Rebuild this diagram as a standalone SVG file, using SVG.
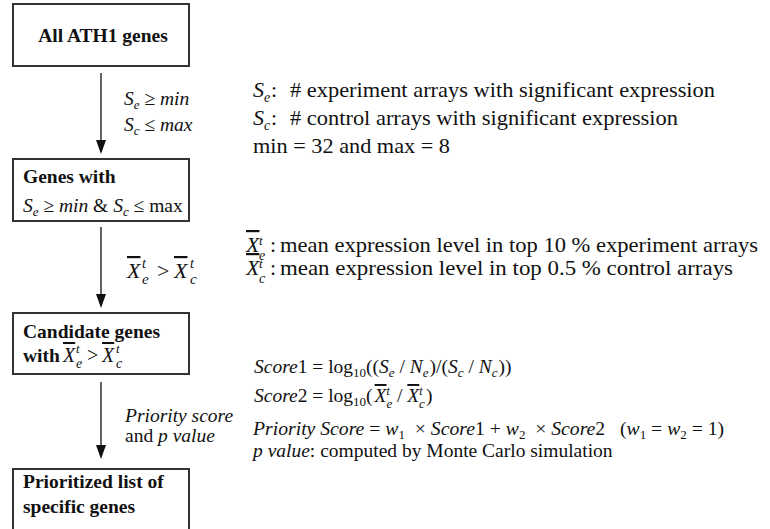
<svg xmlns="http://www.w3.org/2000/svg" width="770" height="529" viewBox="0 0 770 529" font-family="'Liberation Serif', 'DejaVu Serif', serif">
<style>
  text { font-family: 'Liberation Serif', 'DejaVu Serif', serif; fill: #111; }
  .b { font-weight: bold; }
  .i { font-style: italic; }
  .n { font-style: normal; }
  .box { fill: #fff; stroke: #333; stroke-width: 2; }
  .conn { stroke: #222; stroke-width: 1.4; fill: none; }
  .ob { text-decoration: overline; }
</style>
<defs>
  <marker id="ah" markerWidth="14" markerHeight="10" refX="12" refY="5" orient="auto" markerUnits="userSpaceOnUse" viewBox="0 0 14 10">
    <path d="M0,0 L14,5 L0,10 Z" fill="#111"/>
  </marker>
</defs>
<rect width="770" height="529" fill="#fff"/>

<g id="connectors">
  <line x1="101" y1="73" x2="101" y2="152" class="conn" marker-end="url(#ah)"/>
  <line x1="101" y1="227" x2="101" y2="306" class="conn" marker-end="url(#ah)"/>
  <line x1="101" y1="382" x2="101" y2="457" class="conn" marker-end="url(#ah)"/>
  <text class="i" x="124" y="105" font-size="19.5">S<tspan font-size="13" dy="4">e</tspan><tspan dy="-4" class="n"> ≥ </tspan>min</text>
  <text class="i" x="124" y="131" font-size="19.5">S<tspan font-size="13" dy="4">c</tspan><tspan dy="-4" class="n"> ≤ </tspan>max</text>
  <text class="i" font-size="22"><tspan class="ob" x="127" y="278">X</tspan><tspan font-size="14" x="142" y="268">t</tspan><tspan font-size="15" x="142" y="284">e</tspan><tspan class="n" x="157" y="278">&gt;</tspan><tspan class="ob" x="174" y="278">X</tspan><tspan font-size="14" x="190" y="268">t</tspan><tspan font-size="15" x="190" y="284">c</tspan></text>
  <text class="i" x="125" y="422" font-size="19.5">Priority score</text>
  <text x="125" y="442" font-size="19.5">and <tspan class="i">p value</tspan></text>
</g>

<g id="node-all">
  <rect x="13" y="4" width="176" height="62" class="box"/>
  <text class="b" x="103" y="42" font-size="19.5" text-anchor="middle">All ATH1 genes</text>
</g>

<g id="node-genes-with">
  <rect x="13" y="159" width="176" height="62" class="box"/>
  <text class="b" x="23" y="183" font-size="19.5">Genes with</text>
  <text x="23" y="212" font-size="19.5"><tspan class="i">S</tspan><tspan class="i" font-size="13" dy="4">e</tspan><tspan dy="-4"> ≥ </tspan><tspan class="i">min</tspan> &amp; <tspan class="i">S</tspan><tspan class="i" font-size="13" dy="4">c</tspan><tspan dy="-4"> ≤ max</tspan></text>
</g>

<g id="node-candidate">
  <rect x="13" y="313" width="176" height="61" class="box"/>
  <text class="b" x="23" y="338" font-size="19.5">Candidate genes</text>
  <text font-size="20"><tspan class="b" x="23" y="362" font-size="19.5">with</tspan><tspan class="i ob" x="63" y="362">X</tspan><tspan class="i" font-size="13" x="76" y="353">t</tspan><tspan class="i" font-size="14" x="76" y="368">e</tspan><tspan x="87" y="362">&gt;</tspan><tspan class="i ob" x="102" y="362">X</tspan><tspan class="i" font-size="13" x="116" y="353">t</tspan><tspan class="i" font-size="14" x="116" y="368">c</tspan></text>
</g>

<g id="node-prioritized">
  <rect x="13" y="469" width="176" height="62" class="box"/>
  <text class="b" x="23" y="488" font-size="19.5">Prioritized list of</text>
  <text class="b" x="23" y="513" font-size="19.5">specific genes</text>
</g>

<g id="notes">
  <text font-size="22"><tspan class="i" x="253" y="97">S</tspan><tspan class="i" font-size="14" x="264" y="102">e</tspan><tspan x="271" y="97">:</tspan><tspan x="290" y="97" textLength="425" lengthAdjust="spacingAndGlyphs"># experiment arrays with significant expression</tspan></text>
  <text font-size="22"><tspan class="i" x="253" y="125">S</tspan><tspan class="i" font-size="14" x="264" y="130">c</tspan><tspan x="271" y="125">:</tspan><tspan x="290" y="125" textLength="388" lengthAdjust="spacingAndGlyphs"># control arrays with significant expression</tspan></text>
  <text x="253" y="153" font-size="22" textLength="197" lengthAdjust="spacingAndGlyphs">min = 32 and max = 8</text>

  <text font-size="22"><tspan class="i ob" x="246" y="252">X</tspan><tspan class="i" font-size="13" x="259" y="245">t</tspan><tspan class="i" font-size="14" x="259" y="260">e</tspan><tspan x="270" y="252">:</tspan><tspan x="280" y="252" textLength="478" lengthAdjust="spacingAndGlyphs">mean expression level in top 10 % experiment arrays</tspan></text>
  <text font-size="22"><tspan class="i ob" x="246" y="275">X</tspan><tspan class="i" font-size="13" x="259" y="268">t</tspan><tspan class="i" font-size="14" x="259" y="283">c</tspan><tspan x="270" y="275">:</tspan><tspan x="280" y="275" textLength="453" lengthAdjust="spacingAndGlyphs">mean expression level in top 0.5 % control arrays</tspan></text>

  <text x="254" y="373" font-size="19.5"><tspan class="i">Score</tspan>1 = log<tspan font-size="13" dy="4">10</tspan><tspan dy="-4">((</tspan><tspan class="i">S</tspan><tspan class="i" font-size="13" dy="4">e</tspan><tspan dy="-4"> / </tspan><tspan class="i">N</tspan><tspan class="i" font-size="13" dy="4">e</tspan><tspan dy="-4" dx="1">)/(</tspan><tspan class="i">S</tspan><tspan class="i" font-size="13" dy="4">c</tspan><tspan dy="-4"> / </tspan><tspan class="i">N</tspan><tspan class="i" font-size="13" dy="4">c</tspan><tspan dy="-4" dx="1">))</tspan></text>
  <text x="254" y="402" font-size="19.5"><tspan class="i">Score</tspan>2 = log<tspan font-size="13" dy="4">10</tspan><tspan dy="-4">(</tspan><tspan class="i ob" dx="2">X</tspan><tspan class="i" font-size="12" dy="-7">t</tspan><tspan class="i" font-size="13" dx="-3.5" dy="13">e</tspan><tspan dy="-6"> / </tspan><tspan class="i ob">X</tspan><tspan class="i" font-size="12" dy="-7">t</tspan><tspan class="i" font-size="13" dx="-3.5" dy="13">c</tspan><tspan dy="-6" dx="1">)</tspan></text>
  <text x="253" y="435" font-size="19.7"><tspan class="i">Priority Score</tspan> = <tspan class="i">w</tspan><tspan font-size="13" dy="4">1</tspan><tspan dy="-4">&#160;&#160;× </tspan><tspan class="i">Score</tspan>1 + <tspan class="i">w</tspan><tspan font-size="13" dy="4">2</tspan><tspan dy="-4">&#160;&#160;× </tspan><tspan class="i">Score</tspan>2&#160;&#160;&#160;(<tspan class="i">w</tspan><tspan font-size="13" dy="4">1</tspan><tspan dy="-4"> = </tspan><tspan class="i">w</tspan><tspan font-size="13" dy="4">2</tspan><tspan dy="-4"> = 1)</tspan></text>
  <text x="253" y="457" font-size="19.5"><tspan class="i">p value</tspan>: computed by Monte Carlo simulation</text>
</g>
</svg>
